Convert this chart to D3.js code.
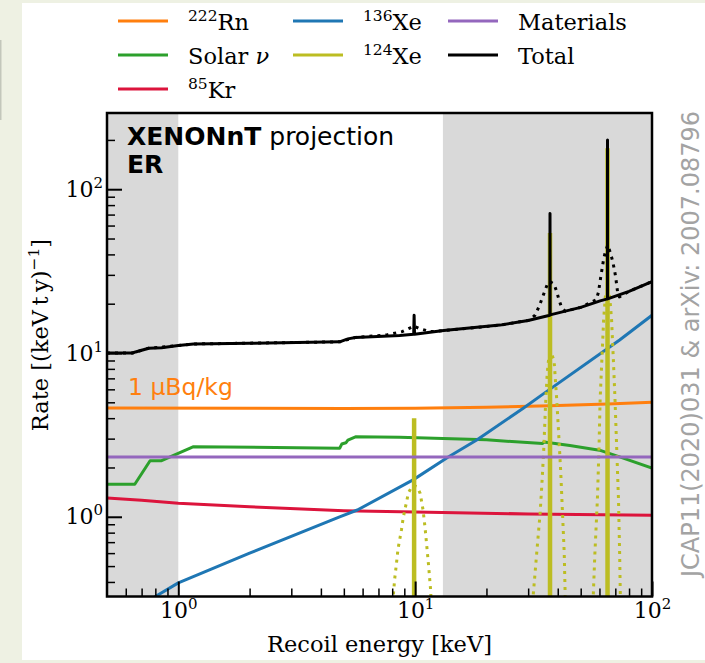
<!DOCTYPE html>
<html>
<head>
<meta charset="utf-8">
<script src="https://cdn.jsdelivr.net/npm/d3@7"></script>
<style>
    body { margin: 0; background: #eef1e3; }
    svg { display: block; }
</style>
</head>
<body>
<div id="chart"></div>
<script>
// ---- data (energy keV, rate per keV t y) ----
const shadeRanges = [[0.5, 1.0], [13.1, 100]];

const rn222 = [[0.5,4.62],[2,4.6],[5,4.58],[10,4.6],[20,4.66],[37,4.77],[65,4.88],[100,5.0]];

const solarNu = [[0.5,1.58],[0.655,1.58],[0.76,2.2],[0.85,2.2],[1.16,2.68],[4.8,2.62],[4.9,2.78],
    [5.1,2.83],[5.2,2.94],[5.6,3.08],[8.6,3.06],[20,2.95],[34.5,2.8],[35,2.86],[45,2.72],
    [60,2.55],[73,2.32],[100,1.98]];

const kr85 = [[0.5,1.3],[0.7,1.26],[1,1.21],[2,1.15],[5,1.09],[10,1.07],[30,1.04],[100,1.02]];

const xe136 = [[0.75,0.3],[0.8,0.326],[1.0,0.395],[2,0.6],[4.8,1.0],[5.7,1.1],[9.8,1.68],
    [13.8,2.32],[18.2,2.94],[28.6,4.6],[35,5.67],[73,12],[100,17]];

const materials = [[0.5,2.32],[100,2.32]];

// 124Xe lines (unsmeared) and smeared peaks
const xe124LineEnergy = [9.9, 37.1, 64.9];
const xe124LineHeight = [4.0, 54, 178];

const xe124Peak10 = [[8.05,0.3],[8.1,0.34],[8.2,0.42],[8.34,0.52],[8.47,0.64],[8.6,0.72],[8.75,0.83],
    [8.9,0.98],[9.04,1.1],[9.2,1.23],[9.35,1.39],[9.66,1.52],[9.9,1.55],[10.2,1.52],[10.5,1.39],
    [10.8,1.1],[11.0,0.87],[11.2,0.66],[11.4,0.5],[11.6,0.37],[11.7,0.3]];
const xe124Peak37 = [[31.3,0.3],[31.5,0.33],[32.6,0.6],[33.7,1.05],[34.3,1.6],[34.9,2.55],[35.5,4.7],
    [36.1,7.5],[36.7,9.5],[37.3,10.2],[38.6,9.0],[39.6,5.2],[40.5,2.94],[41.2,1.84],[41.9,1.05],
    [42.6,0.6],[43.0,0.33],[43.2,0.3]];
const xe124Peak65 = [[56.3,0.3],[56.5,0.33],[57.4,0.6],[58.8,1.27],[59.7,2.55],[60.4,5.2],[61.5,9.5],
    [62.5,16],[63.5,22],[64.9,24.5],[66.3,22],[67.5,16],[68.6,9.5],[69.8,5.2],[71.0,2.55],
    [72.2,1.27],[73.0,0.6],[73.5,0.33],[73.7,0.3]];

const totalSolid = [[0.5,10.0],[0.64,10.0],[0.66,10.15],[0.75,10.7],[0.85,10.75],[1.0,11.1],[1.16,11.35],
    [2,11.45],[4.8,11.7],[5.2,12.2],[5.6,12.45],[8.6,12.8],[9.86,13.0],[9.9,17.0],[9.94,13.0],
    [13.2,13.7],[22.8,14.8],[30,15.8],[37.05,17.0],[37.1,71],[37.15,17.1],[50,19.0],[60.4,20.8],
    [64.85,21.4],[64.9,200],[64.95,21.4],[80,23.8],[100,27.3]];

const totalSmeared = [[0.5,10.0],[0.64,10.0],[0.75,10.7],[1.16,11.35],[4.8,11.7],[5.6,12.45],[7.6,12.9],
    [8.8,13.5],[9.5,14.2],[9.9,14.6],[10.4,14.1],[11.0,13.8],[11.6,13.5],[13.2,13.7],[22.8,14.8],
    [30,15.8],[32.1,17.0],[33.5,19.5],[34.7,22.4],[35.5,24.5],[36.3,26.7],[37.1,27.3],[38.6,26.3],
    [39.6,23.7],[40.5,21.1],[41.5,19.0],[43,18.0],[50,19.0],[58.1,21.1],[59.4,23.4],[60.8,29.3],
    [61.6,32.9],[62.4,37.0],[63.4,41.0],[65.0,45.6],[66.7,41.0],[68.0,37.0],[69.2,32.9],[70.2,29.3],
    [71.6,23.4],[72.8,22.0],[80,23.8],[100,27.3]];

// legend
const legendSup = ["222", "", "85", "136", "124", "", ""];
const legendText = ["Rn", "Solar ", "Kr", "Xe", "Xe", "Materials", "Total"];
const legendColors = ["#ff7f0e", "#2ca02c", "#dc143c", "#1f77b4", "#bcbd22", "#9467bd", "#000000"];

const xMajorTicks = [1, 10, 100];
const yMajorTicks = [1, 10, 100];
const xMinorTicks = [0.6,0.7,0.8,0.9, 2,3,4,5,6,7,8,9, 20,30,40,50,60,70,80,90];
const yMinorTicks = [0.4,0.5,0.6,0.7,0.8,0.9, 2,3,4,5,6,7,8,9, 20,30,40,50,60,70,80,90, 200];


class SpectrumChart {

    constructor(parentElement) {
        this.parentElement = parentElement;
        this.initVis();
    }

    initVis() {
        let vis = this;

        vis.margin = {top: 113, right: 53, bottom: 66.5, left: 107};
        vis.width = 705 - vis.margin.left - vis.margin.right;
        vis.height = 663 - vis.margin.top - vis.margin.bottom;

        vis.svg = d3.select("#" + vis.parentElement).append("svg")
            .attr("width", 705)
            .attr("height", 663);

        // white page on the light backdrop
        vis.svg.append("rect")
            .attr("x", 22).attr("y", 3)
            .attr("width", 683).attr("height", 657)
            .attr("fill", "#ffffff");
        vis.svg.append("rect")
            .attr("x", 0).attr("y", 40)
            .attr("width", 1.5).attr("height", 80)
            .attr("fill", "#c3c7bb");

        vis.g = vis.svg.append("g")
            .attr("transform", `translate(${vis.margin.left},${vis.margin.top})`);

        vis.g.append("clipPath").attr("id", "plotClip")
            .append("rect")
            .attr("width", vis.width)
            .attr("height", vis.height);

        // scales
        vis.x = d3.scaleLog().domain([0.5, 100]).range([0, vis.width]);
        vis.y = d3.scaleLog().domain([0.326, 292]).range([vis.height, 0]);

        vis.line = d3.line()
            .x(d => vis.x(d[0]))
            .y(d => vis.y(d[1]));

        vis.updateVis();
    }

    drawLine(data, color, width, dotted) {
        let vis = this;
        vis.plot.append("path")
            .datum(data)
            .attr("d", vis.line)
            .attr("fill", "none")
            .attr("stroke", color)
            .attr("stroke-width", width)
            .attr("stroke-linejoin", "round")
            .attr("stroke-dasharray", dotted ? "3,5" : null);
    }

    supLabel(sel, base) {
        // "10^n" style tick labels
        sel.each(function(d) {
            let t = d3.select(this);
            t.text(null);
            t.append("tspan").text(base);
            t.append("tspan")
                .attr("font-size", "15px")
                .attr("dy", "-9")
                .text(Math.round(Math.log10(d)));
        });
    }

    updateVis() {
        let vis = this;

        // shaded regions
        vis.g.selectAll(".shade")
            .data(shadeRanges)
            .enter().append("rect")
            .attr("class", "shade")
            .attr("x", d => vis.x(d[0]))
            .attr("width", d => vis.x(d[1]) - vis.x(d[0]))
            .attr("y", 0)
            .attr("height", vis.height)
            .attr("fill", "#d9d9d9");

        vis.plot = vis.g.append("g").attr("clip-path", "url(#plotClip)");

        vis.drawLine(rn222, legendColors[0], 3);
        vis.drawLine(solarNu, legendColors[1], 3);
        vis.drawLine(kr85, legendColors[2], 3);
        vis.drawLine(xe136, legendColors[3], 3);

        [xe124Peak10, xe124Peak37, xe124Peak65].forEach(p => vis.drawLine(p, legendColors[4], 3, true));
        xe124LineEnergy.forEach((e, i) => {
            vis.drawLine([[e, vis.y.domain()[0]], [e, xe124LineHeight[i]]], legendColors[4], 4.5);
        });

        vis.drawLine(materials, legendColors[5], 3);
        vis.drawLine(totalSolid, "#000", 3);
        vis.drawLine(totalSmeared, "#000", 3, true);

        // axes
        let xMajor = vis.g.append("g")
            .attr("transform", `translate(0,${vis.height})`)
            .call(d3.axisBottom(vis.x).tickValues(xMajorTicks).tickSizeInner(-15).tickSizeOuter(0).tickPadding(6));
        let xMinor = vis.g.append("g")
            .attr("transform", `translate(0,${vis.height})`)
            .call(d3.axisBottom(vis.x).tickValues(xMinorTicks).tickSizeInner(-8).tickSizeOuter(0).tickFormat(""));
        let yMajor = vis.g.append("g")
            .call(d3.axisLeft(vis.y).tickValues(yMajorTicks).tickSizeInner(-15).tickSizeOuter(0).tickPadding(4));
        let yMinor = vis.g.append("g")
            .call(d3.axisLeft(vis.y).tickValues(yMinorTicks).tickSizeInner(-8).tickSizeOuter(0).tickFormat(""));

        [xMajor, xMinor, yMajor, yMinor].forEach(a => a.select(".domain").remove());
        [xMajor, yMajor].forEach(a => a.selectAll(".tick line").attr("stroke-width", 2));
        [xMinor, yMinor].forEach(a => a.selectAll(".tick line").attr("stroke-width", 1.5));
        [xMajor, yMajor].forEach(a => a.selectAll("text")
            .attr("font-family", "'DejaVu Serif', serif")
            .attr("font-size", 22)
            .attr("fill", "#000"));
        vis.supLabel(xMajor.selectAll("text"), "10");
        vis.supLabel(yMajor.selectAll("text"), "10");

        // frame
        vis.g.append("rect")
            .attr("width", vis.width)
            .attr("height", vis.height)
            .attr("fill", "none")
            .attr("stroke", "#000")
            .attr("stroke-width", 2.5);

        // in-plot annotations
        let title = vis.g.append("text")
            .attr("x", 20).attr("y", 32)
            .attr("font-family", "'DejaVu Sans', sans-serif")
            .attr("font-size", 25);
        title.append("tspan").attr("font-weight", "bold").text("XENONnT");
        title.append("tspan").text(" projection");
        vis.g.append("text")
            .attr("x", 20).attr("y", 60)
            .attr("font-family", "'DejaVu Sans', sans-serif")
            .attr("font-size", 25)
            .attr("font-weight", "bold")
            .text("ER");

        vis.g.append("text")
            .attr("x", 21).attr("y", 282)
            .attr("font-family", "'DejaVu Sans', sans-serif")
            .attr("font-size", 23.5)
            .attr("fill", legendColors[0])
            .text("1 \u03bcBq/kg");

        // axis labels
        vis.g.append("text")
            .attr("x", vis.width / 2)
            .attr("y", 539)
            .attr("text-anchor", "middle")
            .attr("font-family", "'DejaVu Serif', serif")
            .attr("font-size", 22.5)
            .text("Recoil energy [keV]");

        let yLab = vis.svg.append("text")
            .attr("transform", "translate(48,335) rotate(-90)")
            .attr("text-anchor", "middle")
            .attr("font-family", "'DejaVu Serif', serif")
            .attr("font-size", 22.5);
        yLab.append("tspan").text("Rate [(keV\u2009t\u2009y)");
        yLab.append("tspan").attr("font-size", "15.5px").attr("dy", "-9").text("\u22121");
        yLab.append("tspan").attr("dy", "9").text("]");

        // citation
        vis.svg.append("text")
            .attr("transform", "translate(699,344) rotate(-90)")
            .attr("text-anchor", "middle")
            .attr("font-family", "'DejaVu Sans', sans-serif")
            .attr("font-size", 24)
            .attr("fill", "#a3a3a3")
            .text("JCAP11(2020)031 & arXiv: 2007.08796");

        // legend (3 columns, column-major fill)
        let colX = [118, 293, 448];
        let rowY = [21, 55, 89];
        let slots = [[0,0],[0,1],[0,2],[1,0],[1,1],[2,0],[2,1]];
        let legend = vis.svg.append("g");
        legendText.forEach((label, i) => {
            let cx = colX[slots[i][0]];
            let cy = rowY[slots[i][1]];
            legend.append("line")
                .attr("x1", cx).attr("x2", cx + 50)
                .attr("y1", cy).attr("y2", cy)
                .attr("stroke", legendColors[i])
                .attr("stroke-width", 3);
            let t = legend.append("text")
                .attr("x", cx + 70)
                .attr("y", cy + 8.5)
                .attr("font-family", "'DejaVu Serif', serif")
                .attr("font-size", 22.5);
            if (legendSup[i]) {
                t.append("tspan").attr("font-size", "15.5px").attr("dy", "-9").text(legendSup[i]);
                t.append("tspan").attr("dy", "9").text(label);
            } else {
                t.append("tspan").text(label);
            }
            if (label === "Solar ") {
                t.append("tspan").attr("font-style", "italic").text("\u03bd");
            }
        });
    }
}

new SpectrumChart("chart");
</script>
</body>
</html>
